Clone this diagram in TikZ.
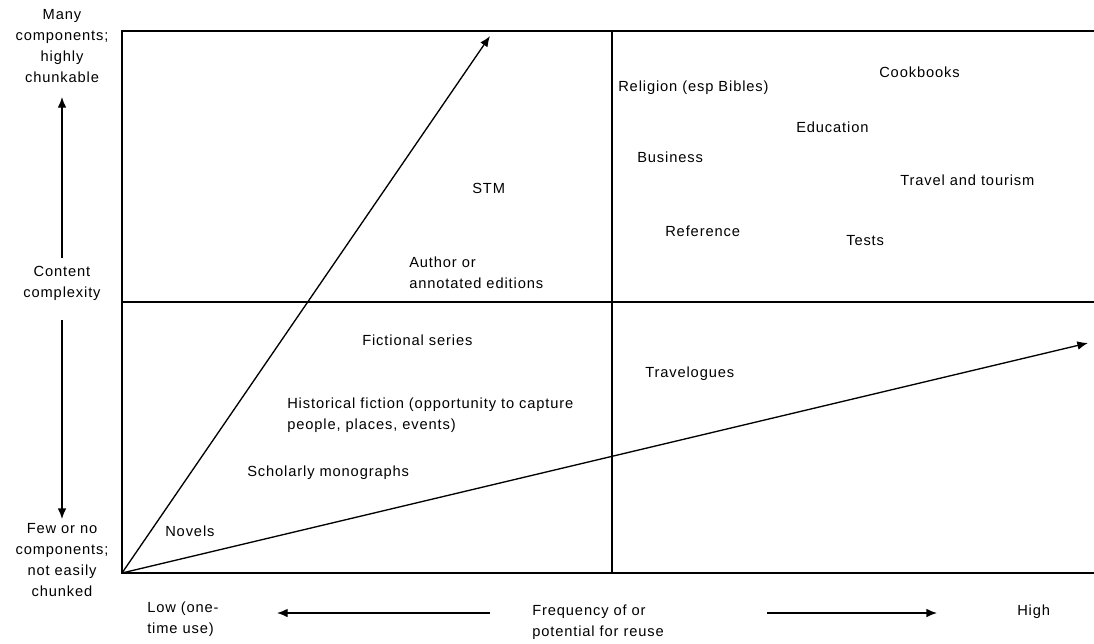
\documentclass[tikz,border=0pt]{standalone}
\usepackage{fontspec}
\setmainfont{Liberation Sans}[LetterSpace=6]
\usetikzlibrary{positioning,arrows.meta}

\begin{document}
\begin{tikzpicture}[
    x = 0.75pt,
    y = -0.75pt,
    plain/.style={
        draw = none,
        fill = none,
        inner sep = 0pt,
        align = left,
        anchor = west,
        font = \fontsize{11}{15.75}\selectfont
    },
    side/.style={
        plain,
        anchor = center,
        align = center
    },
    frame/.style={
        line width = 2.2pt
    },
    divider/.style={
        line width = 1pt
    },
    trend/.style={
        line width = 1pt,
        ->
    },
    >={Latex[length=8pt,width=6.5pt]}
    ]

\useasboundingbox (0,0) rectangle (1094,643);

% quadrants
\coordinate (origin) at (122,573);
\coordinate (topleft) at (122,31);
\coordinate (topright) at (1094,31);
\coordinate (botright) at (1094,573);
\coordinate (midtop) at (612,31);
\coordinate (midbot) at (612,573);
\coordinate (midleft) at (122,302);
\coordinate (midright) at (1094,302);
\draw[frame] (topright) -- (topleft) -- (origin) -- (botright);
\draw[divider] (midtop) -- (midbot);
\draw[divider] (midleft) -- (midright);

% trends
\coordinate (steep) at (490,36);
\coordinate (flat) at (1088,343);
\draw[trend] (origin) -- (steep);
\draw[trend] (origin) -- (flat);

% genres
\node[plain] (religion) at (618,88) {Religion (esp Bibles)};
\node[plain] (cookbooks) at (879,72) {Cookbooks};
\node[plain] (education) at (796,127) {Education};
\node[plain] (business) at (637,157) {Business};
\node[plain] (travel) at (900,180) {Travel and tourism};
\node[plain] (stm) at (472,188) {STM};
\node[plain] (reference) at (665,231) {Reference};
\node[plain] (tests) at (846,241) {Tests};
\node[plain] (author) at (409,273) {Author or\\annotated editions};
\node[plain] (series) at (362,340) {Fictional series};
\node[plain] (travelogues) at (645,374) {Travelogues};
\node[plain] (historical) at (287,415) {Historical fiction (opportunity to capture\\people, places, events)};
\node[plain] (scholarly) at (247,473) {Scholarly monographs};
\node[plain] (novels) at (165,531) {Novels};

% vertical axis
\node[side] (many) at (62,46) {Many\\components;\\highly\\chunkable};
\node[side] (content) at (62,283) {Content\\complexity};
\node[side] (few) at (62,560) {Few or no\\components;\\not easily\\chunked};
\coordinate (upfrom) at (62,258);
\coordinate (upto) at (62,97);
\coordinate (downfrom) at (62,320);
\coordinate (downto) at (62,519);
\draw[trend] (upfrom) -- (upto);
\draw[trend] (downfrom) -- (downto);

% horizontal axis
\node[plain] (low) at (147,619) {Low (one-\\time use)};
\node[plain] (freq) at (532,622) {Frequency of or\\potential for reuse};
\node[plain] (high) at (1017,612) {High};
\coordinate (leftfrom) at (490,613);
\coordinate (leftto) at (277,613);
\coordinate (rightfrom) at (767,613);
\coordinate (rightto) at (937,613);
\draw[trend] (leftfrom) -- (leftto);
\draw[trend] (rightfrom) -- (rightto);
\end{tikzpicture}
\end{document}
